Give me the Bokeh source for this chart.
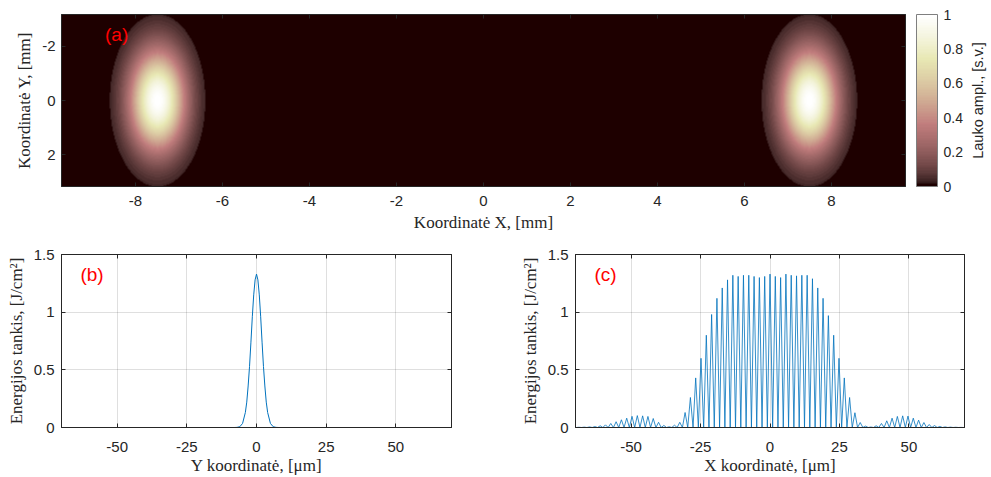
import numpy as np
from bokeh.plotting import figure
from bokeh.layouts import column, row
from bokeh.models import (Range1d, LinearAxis, FixedTicker, LinearColorMapper,
                          ColorBar, Label)
from bokeh.embed import file_html
from bokeh.resources import INLINE

# ---------------- data ----------------
# (a) field amplitude of two beams
beam_centers_x_mm = [-7.5, 7.5]
beam_center_y_mm = 0.0
beam_radius_x_mm = 0.613
beam_radius_y_mm = 1.78
amplitude_cutoff = 0.04
a_x_range = [-9.7, 9.7]
a_y_range = [-3.17, 3.17]
a_xticks = [-8, -6, -4, -2, 0, 2, 4, 6, 8]
a_xlabels = ["-8", "-6", "-4", "-2", "0", "2", "4", "6", "8"]
a_yticks = [-2, 0, 2]
a_ylabels = ["-2", "0", "2"]
cb_ticks = [0, 0.2, 0.4, 0.6, 0.8, 1]
cb_labels = ["0", "0.2", "0.4", "0.6", "0.8", "1"]

# (b) energy density along Y
y_um = [-70, -8, -7, -6, -5, -4, -3.5, -3, -2.5, -2, -1.5, -1, -0.5, 0,
        0.5, 1, 1.5, 2, 2.5, 3, 3.5, 4, 5, 6, 7, 8, 70]
energy_y = [0, 0, 0.001, 0.007, 0.035, 0.13, 0.22, 0.36, 0.53, 0.74, 0.96, 1.15, 1.28, 1.33,
            1.28, 1.15, 0.96, 0.74, 0.53, 0.36, 0.22, 0.13, 0.035, 0.007, 0.001, 0, 0]

# (c) energy density along X: interference fringes (peak heights per fringe order)
fringe_period_um = 1.91
fringe_order = list(range(-36, 37))
fringe_peak = [0.002, 0.003, 0.005, 0.008, 0.015, 0.023, 0.035, 0.050, 0.067, 0.081,
               0.097, 0.103, 0.101, 0.096, 0.078, 0.045, 0.018, 0.006, 0.020, 0.045,
               0.130, 0.260, 0.430, 0.600, 0.800, 0.980, 1.120, 1.210, 1.280, 1.320,
               1.310, 1.320, 1.320, 1.310, 1.300, 1.310, 1.330, 1.310, 1.300, 1.330,
               1.320, 1.315, 1.320, 1.320, 1.290, 1.210, 1.120, 0.970, 0.800, 0.600,
               0.430, 0.260, 0.128, 0.043, 0.012, 0.004, 0.015, 0.035, 0.058, 0.081,
               0.096, 0.101, 0.099, 0.081, 0.064, 0.043, 0.026, 0.017, 0.009, 0.005,
               0.003, 0.002, 0.001]
fringe_valley = 0.0
xy_range_um = [-70, 70]
um_ticks = [-50, -25, 0, 25, 50]
um_labels = ["-50", "-25", "0", "25", "50"]
e_ticks = [0, 0.5, 1, 1.5]
e_labels = ["0", "0.5", "1", "1.5"]

# ---------------- styles ----------------
TICK_FONT = "Liberation Sans"
LABEL_FONT = "Liberation Serif"
AXC = "#262626"
LINE_C = "#0072BD"


def matlab_pink(m=64):
    n = int(3 * m / 8)
    r = np.r_[np.arange(1, n + 1) / n, np.ones(m - n)]
    g = np.r_[np.zeros(n), np.arange(1, n + 1) / n, np.ones(m - 2 * n)]
    b = np.r_[np.zeros(2 * n), np.arange(1, m - 2 * n + 1) / (m - 2 * n)]
    gray = np.arange(m) / (m - 1)
    rgb = np.sqrt((2 * gray[:, None] + np.c_[r, g, b]) / 3)
    return ["#%02x%02x%02x" % tuple(int(round(v * 255)) for v in c) for c in rgb]


def style_axis(ax, tick_size, label_size, standoff, label_standoff):
    ax.axis_line_color = AXC
    ax.major_tick_line_color = AXC
    ax.major_tick_in = 4
    ax.major_tick_out = 0
    ax.minor_tick_line_color = None
    ax.major_label_text_font = TICK_FONT
    ax.major_label_text_font_size = tick_size
    ax.major_label_text_color = AXC
    ax.major_label_standoff = standoff
    ax.axis_label_text_font = LABEL_FONT
    ax.axis_label_text_font_size = label_size
    ax.axis_label_text_font_style = "normal"
    ax.axis_label_text_color = AXC
    ax.axis_label_standoff = label_standoff


def mirror_axis(ticks):
    ax = LinearAxis(ticker=FixedTicker(ticks=ticks))
    ax.axis_line_color = AXC
    ax.major_tick_line_color = AXC
    ax.major_tick_in = 4
    ax.major_tick_out = 0
    ax.minor_tick_line_color = None
    ax.major_label_text_font_size = "1px"
    ax.major_label_text_alpha = 0
    ax.major_label_text_color = None
    ax.major_label_standoff = 0
    return ax


# ---------------- (a) heatmap ----------------
nx, ny = 844, 172
xs = np.linspace(a_x_range[0], a_x_range[1], nx)
ys = np.linspace(a_y_range[0], a_y_range[1], ny)
X, Y = np.meshgrid(xs, ys)
Z = np.zeros_like(X)
for xc in beam_centers_x_mm:
    Z += np.exp(-((X - xc) / beam_radius_x_mm) ** 2 - ((Y - beam_center_y_mm) / beam_radius_y_mm) ** 2)
Z[Z < amplitude_cutoff] = 0.0

mapper = LinearColorMapper(palette=matlab_pink(64), low=0, high=1)

pa = figure(width=968, height=240, output_backend="svg", toolbar_location=None,
            x_range=Range1d(a_x_range[0], a_x_range[1]),
            y_range=Range1d(a_y_range[1], a_y_range[0]),
            min_border_left=61, min_border_right=63, min_border_top=14, min_border_bottom=54,
            background_fill_color="white", border_fill_color="white")
pa.image(image=[Z], x=a_x_range[0], y=a_y_range[0],
         dw=a_x_range[1] - a_x_range[0], dh=a_y_range[1] - a_y_range[0], color_mapper=mapper)
pa.grid.visible = False
pa.outline_line_color = AXC
pa.xaxis.ticker = FixedTicker(ticks=a_xticks)
pa.yaxis.ticker = FixedTicker(ticks=a_yticks)
pa.xaxis.major_label_overrides = dict(zip(a_xticks, a_xlabels))
pa.yaxis.major_label_overrides = dict(zip(a_yticks, a_ylabels))
pa.xaxis.axis_label = "Koordinatė X, [mm]"
pa.yaxis.axis_label = "Koordinatė Y, [mm]"
style_axis(pa.xaxis[0], "15px", "17px", 9, 4)
style_axis(pa.yaxis[0], "15px", "17px", 6, 5)
pa.add_layout(mirror_axis(a_xticks), "above")
pa.add_layout(mirror_axis(a_yticks), "right")

cb = ColorBar(color_mapper=mapper, ticker=FixedTicker(ticks=cb_ticks),
              major_label_overrides=dict(zip(cb_ticks, cb_labels)),
              width=21, height=172, padding=0, margin=0, location=(11, 0),
              bar_line_color="#7f7f7f", border_line_color=None, background_fill_color=None,
              major_tick_line_color=None, minor_tick_line_color=None,
              major_label_text_font=TICK_FONT, major_label_text_font_size="14px",
              major_label_text_color=AXC, label_standoff=6)
pa.add_layout(cb, "right")

pa.add_layout(Label(x=-8.70, y=-2.43, text="(a)", text_color="red", text_font=TICK_FONT,
                    text_font_size="19px", text_baseline="middle", text_align="left"))

# colour-bar title, in its own narrow strip
plab = figure(width=23, height=240, output_backend="svg", toolbar_location=None,
              x_range=Range1d(0, 1), y_range=Range1d(0, 1),
              x_axis_location=None, y_axis_location=None,
              min_border_left=0, min_border_right=0, min_border_top=14, min_border_bottom=54,
              background_fill_color="white", border_fill_color="white")
plab.outline_line_color = None
plab.grid.visible = False
plab.add_layout(Label(x=0.4, y=0.5, text="Lauko ampl., [s.v.]", angle=np.pi / 2,
                      text_color=AXC, text_font=TICK_FONT, text_font_size="14.5px",
                      text_baseline="middle", text_align="center"))


# ---------------- (b), (c) line panels ----------------
def line_panel(width, left, right, xlabel, tag):
    p = figure(width=width, height=237, output_backend="svg", toolbar_location=None,
               x_range=Range1d(xy_range_um[0], xy_range_um[1]), y_range=Range1d(0, 1.5),
               min_border_left=left, min_border_right=right, min_border_top=14,
               min_border_bottom=50, background_fill_color="white", border_fill_color="white")
    p.outline_line_color = AXC
    p.xaxis.ticker = FixedTicker(ticks=um_ticks)
    p.yaxis.ticker = FixedTicker(ticks=e_ticks)
    p.xaxis.major_label_overrides = dict(zip(um_ticks, um_labels))
    p.yaxis.major_label_overrides = dict(zip(e_ticks, e_labels))
    p.xaxis.axis_label = xlabel
    p.yaxis.axis_label = "Energijos tankis, [J/cm²]"
    style_axis(p.xaxis[0], "15px", "17px", 14, 1)
    style_axis(p.yaxis[0], "15px", "17px", 7, 5)
    p.xgrid.ticker = FixedTicker(ticks=um_ticks)
    p.ygrid.ticker = FixedTicker(ticks=e_ticks)
    p.grid.grid_line_color = "#262626"
    p.grid.grid_line_alpha = 0.15
    p.add_layout(mirror_axis(um_ticks), "above")
    p.add_layout(mirror_axis(e_ticks), "right")
    p.add_layout(Label(x=-63.2, y=1.326, text=tag, text_color="red", text_font=TICK_FONT,
                       text_font_size="19px", text_baseline="middle", text_align="left"))
    return p


pb = line_panel(500, 61, 49, "Y koordinatė, [μm]", "(b)")
pb.line(y_um, energy_y, line_color=LINE_C, line_width=1)

cx = [xy_range_um[0]]
cy = [fringe_valley]
for k, h in zip(fringe_order, fringe_peak):
    cx += [(k - 0.5) * fringe_period_um, k * fringe_period_um]
    cy += [fringe_valley, h]
cx += [(fringe_order[-1] + 0.5) * fringe_period_um, xy_range_um[1]]
cy += [fringe_valley, fringe_valley]

pc = line_panel(491, 75, 27, "X koordinatė, [μm]", "(c)")
pc.line(cx, cy, line_color=LINE_C, line_width=0.8)

layout = column(row(pa, plab), row(pb, pc))
open("out.html", "w").write(file_html(layout, INLINE))
